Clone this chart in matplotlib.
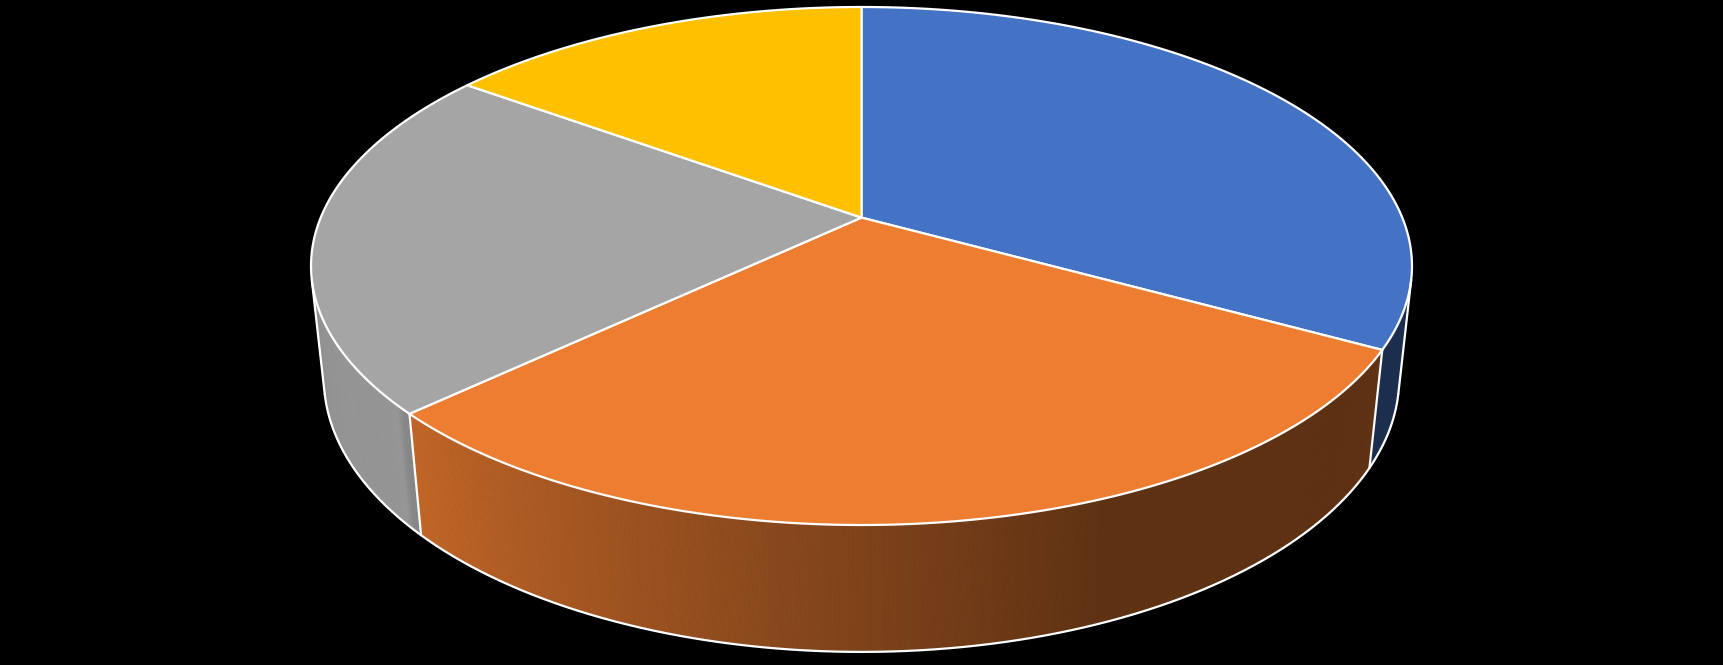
import numpy as np
import matplotlib
matplotlib.use('Agg')
import matplotlib.pyplot as plt
from matplotlib.collections import PolyCollection
from matplotlib.colors import to_rgb

# slice shares (percent), clockwise from 12 o'clock
values = [33, 30, 22, 15]
colors = ['#4472C4', '#ED7D31', '#A5A5A5', '#FFC000']

# camera used for the 3d look (pixels)
cx, cy = 861.5, 217.6
f = 2566.0
D = 4.745
tilt = np.radians(27.53)
s, c = np.sin(tilt), np.cos(tilt)
h = 0.236


def project(x, y, z):
    d = D - (y * s + z * c)
    X = cx + f * x / d
    Y = cy - f * (y * c - z * s) / d
    return X, Y


def rim(psi, y):
    # psi in degrees, clockwise from the far side
    p = np.radians(psi)
    return project(np.sin(p), y, -np.cos(p))


def shade(psi):
    return np.interp(psi, [100, 158, 228, 229, 275], [0.40, 0.40, 0.83, 0.92, 0.84])


fig = plt.figure(figsize=(17.23, 6.65), dpi=100, facecolor='black')
ax = fig.add_axes([0, 0, 1, 1])
ax.set_facecolor('black')
ax.set_xlim(0, 1723)
ax.set_ylim(665, 0)
ax.axis('off')

edges = np.concatenate([[0], np.cumsum(values)]) / sum(values) * 360.0

# visible part of the wall: z > 1/(D*c)
zs = 1.0 / (D * c)
vis_a = 180 - np.degrees(np.arccos(zs))
vis_b = 180 + np.degrees(np.arccos(zs))

white = 'white'
lw = 1.6

# side walls
for i in range(len(values)):
    a0 = max(edges[i], vis_a)
    a1 = min(edges[i + 1], vis_b)
    if a1 <= a0:
        continue
    ang = np.linspace(a0, a1, int((a1 - a0) * 4) + 2)
    polys = []
    fcs = []
    base = np.array(to_rgb(colors[i]))
    for k in range(len(ang) - 1):
        tx, ty = rim(np.array([ang[k], ang[k + 1]]), 0)
        bx, by = rim(np.array([ang[k], ang[k + 1]]), -h)
        polys.append([(tx[0], ty[0]), (tx[1], ty[1]), (bx[1], by[1]), (bx[0], by[0])])
        fcs.append(np.clip(base * shade(0.5 * (ang[k] + ang[k + 1])), 0, 1))
    ax.add_collection(PolyCollection(polys, facecolors=fcs, edgecolors=fcs, linewidths=0.6))

# wall outlines
ang = np.linspace(vis_a, vis_b, 600)
bx, by = rim(ang, -h)
ax.plot(bx, by, color=white, lw=lw, solid_capstyle='round')
for a in [vis_a, vis_b] + [e for e in edges if vis_a < e < vis_b]:
    tx, ty = rim(np.array([a]), 0)
    bx, by = rim(np.array([a]), -h)
    ax.plot([tx[0], bx[0]], [ty[0], by[0]], color=white, lw=lw, solid_capstyle='round')

# top face
ox, oy = project(0, 0, 0)
for i in range(len(values)):
    ang = np.linspace(edges[i], edges[i + 1], 400)
    tx, ty = rim(ang, 0)
    xs = np.concatenate([[ox], tx])
    ys = np.concatenate([[oy], ty])
    ax.fill(xs, ys, facecolor=colors[i], edgecolor=white, lw=lw, joinstyle='round')

fig.savefig('out.png', dpi=100, facecolor='black')
